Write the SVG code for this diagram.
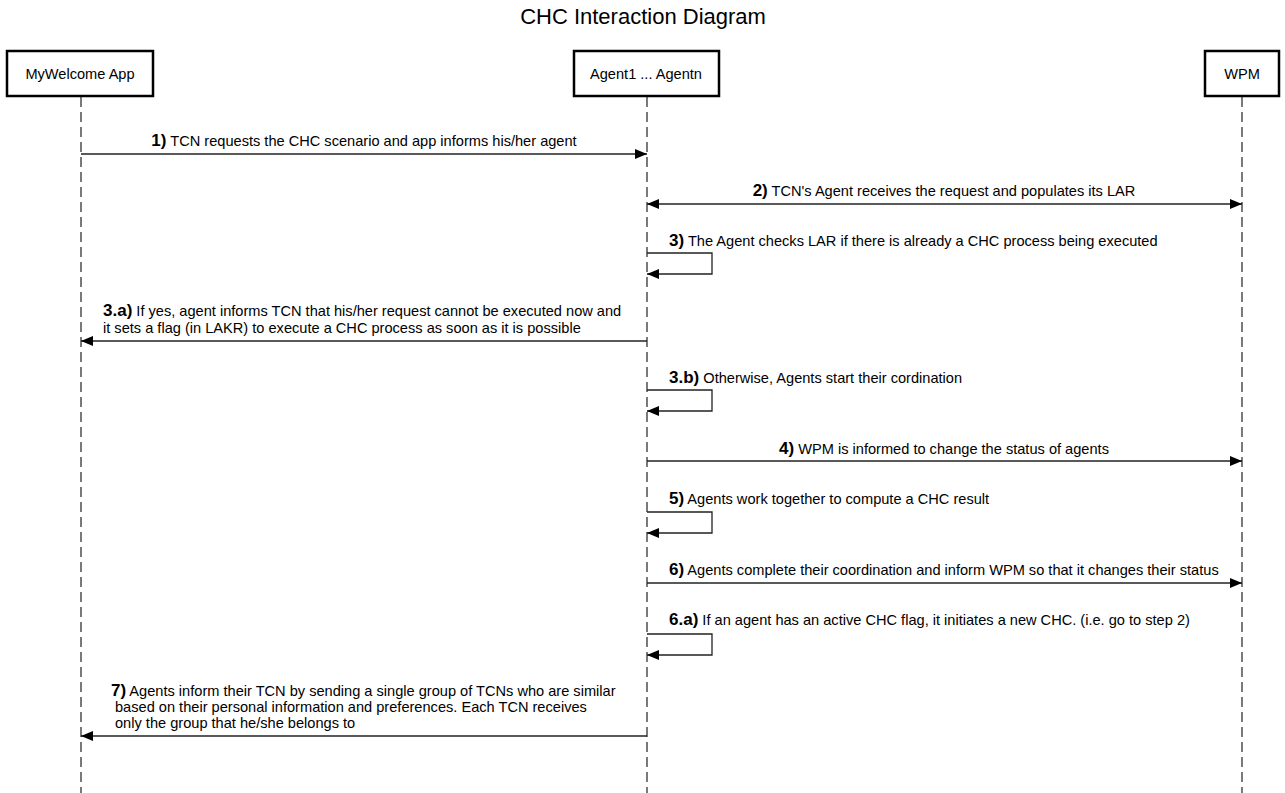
<svg xmlns="http://www.w3.org/2000/svg" width="1285" height="793" viewBox="0 0 1285 793">
<style>
text{font-family:"Liberation Sans",Arial,sans-serif;font-size:14.6px;fill:#000}
.t{font-size:22px}
.n{font-size:17px;font-weight:bold}
.box{fill:#fff;stroke:#000;stroke-width:2.5}
.life{stroke:#333;stroke-width:1.3;stroke-dasharray:10,5;fill:none}
.msg{stroke:#222;stroke-width:1.3;fill:none}
.m{text-anchor:middle}
</style>
<defs>
<marker id="ah" viewBox="0 0 12 10" refX="12" refY="5" markerWidth="12" markerHeight="10" markerUnits="userSpaceOnUse" orient="auto-start-reverse">
<path d="M0,0 L12,5 L0,10 Z" fill="#000"/>
</marker>
</defs>
<rect width="1285" height="793" fill="#fff"/>
<text class="t m" x="643" y="24">CHC Interaction Diagram</text>
<g id="lifelines">
<line class="life" x1="81" y1="97" x2="81" y2="793"/>
<line class="life" x1="647" y1="97" x2="647" y2="793"/>
<line class="life" x1="1242" y1="97" x2="1242" y2="793"/>
</g>
<g id="node-app"><rect class="box" x="7" y="51" width="146" height="45"/><text class="m" x="80" y="79">MyWelcome App</text></g>
<g id="node-agents"><rect class="box" x="574" y="51" width="145" height="45"/><text class="m" x="646" y="79">Agent1 ... Agentn</text></g>
<g id="node-wpm"><rect class="box" x="1205" y="51" width="74" height="45"/><text class="m" x="1242" y="79">WPM</text></g>
<g id="connectors">
<line class="msg" x1="81" y1="154" x2="647" y2="154" marker-end="url(#ah)"/>
<line class="msg" x1="647" y1="204" x2="1242" y2="204" marker-start="url(#ah)" marker-end="url(#ah)"/>
<path class="msg" d="M647,253 H712 V274 H647" marker-end="url(#ah)"/>
<line class="msg" x1="647" y1="341" x2="81" y2="341" marker-end="url(#ah)"/>
<path class="msg" d="M647,390 H712 V411 H647" marker-end="url(#ah)"/>
<line class="msg" x1="647" y1="461" x2="1242" y2="461" marker-end="url(#ah)"/>
<path class="msg" d="M647,512 H712 V533 H647" marker-end="url(#ah)"/>
<line class="msg" x1="647" y1="583" x2="1242" y2="583" marker-end="url(#ah)"/>
<path class="msg" d="M647,634 H712 V655 H647" marker-end="url(#ah)"/>
<line class="msg" x1="647" y1="736" x2="81" y2="736" marker-end="url(#ah)"/>
</g>
<g id="labels">
<text class="m" x="364" y="146"><tspan class="n">1)</tspan> TCN requests the CHC scenario and app informs his/her agent</text>
<text class="m" x="944" y="196"><tspan class="n">2)</tspan> TCN's Agent receives the request and populates its LAR</text>
<text x="669" y="246"><tspan class="n">3)</tspan> The Agent checks LAR if there is already a CHC process being executed</text>
<text x="103" y="316"><tspan class="n">3.a)</tspan> If yes, agent informs TCN that his/her request cannot be executed now and</text>
<text x="103" y="333">it sets a flag (in LAKR) to execute a CHC process as soon as it is possible</text>
<text x="669" y="383"><tspan class="n">3.b)</tspan> Otherwise, Agents start their cordination</text>
<text class="m" x="944" y="454"><tspan class="n">4)</tspan> WPM is informed to change the status of agents</text>
<text x="669" y="504"><tspan class="n">5)</tspan> Agents work together to compute a CHC result</text>
<text x="669" y="575"><tspan class="n">6)</tspan> Agents complete their coordination and inform WPM so that it changes their status</text>
<text x="669" y="625"><tspan class="n">6.a)</tspan> If an agent has an active CHC flag, it initiates a new CHC. (i.e. go to step 2)</text>
<text x="111" y="696"><tspan class="n">7)</tspan> Agents inform their TCN by sending a single group of TCNs who are similar</text>
<text x="115" y="712">based on their personal information and preferences. Each TCN receives</text>
<text x="115" y="728">only the group that he/she belongs to</text>
</g>
</svg>
